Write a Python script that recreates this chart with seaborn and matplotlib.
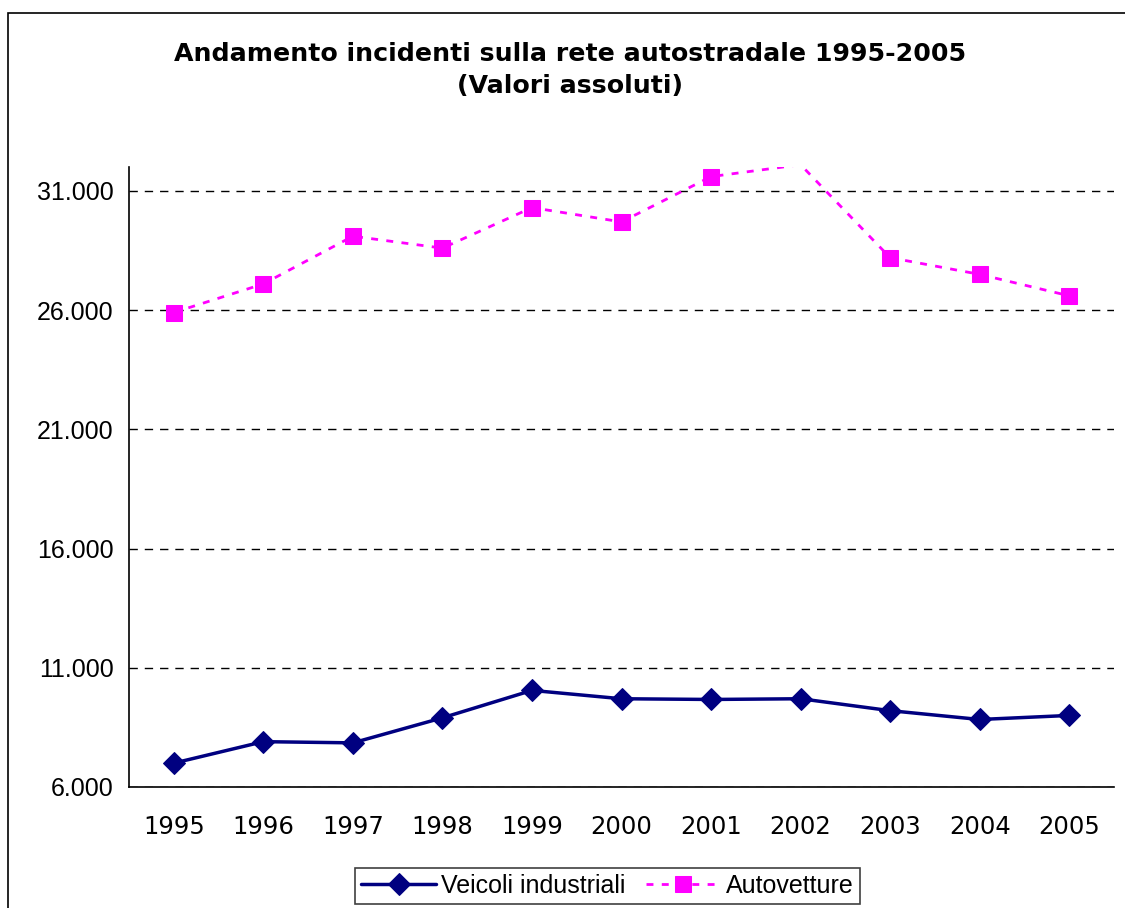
import matplotlib
matplotlib.use("Agg")
import matplotlib.pyplot as plt
import numpy as np
import pandas as pd
import seaborn as sns
from matplotlib.patches import Rectangle

# data
anni = ['1995', '1996', '1997', '1998', '1999', '2000',
        '2001', '2002', '2003', '2004', '2005']
veicoli_industriali = [7000, 7900, 7850, 8900, 10050, 9700,
                       9670, 9700, 9200, 8830, 9000]
autovetture = [25900, 27100, 29100, 28600, 30300, 29700,
               31600, 32100, 28200, 27500, 26600]
y_ticks = [6000, 11000, 16000, 21000, 26000, 31000]
y_max = 32000

sns.set_style('white')
plt.rcParams['font.family'] = ['DejaVu Sans']
plt.rcParams['text.color'] = 'black'
plt.rcParams['xtick.color'] = 'black'
plt.rcParams['ytick.color'] = 'black'

df = pd.DataFrame({
    'pos': np.arange(len(anni)),
    'Veicoli industriali': veicoli_industriali,
    'Autovetture': autovetture,
})

fig = plt.figure(figsize=(11.25, 9.08), dpi=100)
ax = fig.add_axes([0.1147, 0.1333, 0.8755, 0.6827])

sns.lineplot(data=df, x='pos', y='Veicoli industriali', ax=ax,
             color='#000080', lw=2.5, marker='D', markersize=11,
             markeredgecolor='#000080', label='Veicoli industriali')
# markers beyond the axis top are not drawn (as in the original)
visible = [i for i, v in enumerate(autovetture) if v <= y_max]
sns.lineplot(data=df, x='pos', y='Autovetture', ax=ax,
             color='#FF00FF', lw=2, linestyle=(0, (2.5, 3)), marker='s',
             markersize=12, markeredgecolor='#FF00FF', markevery=visible,
             label='Autovetture')

ax.set_xlim(-0.5, len(anni) - 0.5)
ax.set_ylim(6000, y_max)
ax.set_xticks(np.arange(len(anni)))
ax.set_xticklabels(anni, fontsize=17.5)
ax.set_xticks(np.arange(len(anni) + 1) - 0.5, minor=True)
ax.tick_params(axis='x', which='major', length=0, pad=20)
ax.tick_params(axis='x', which='minor', length=8, width=1.2,
               direction='out', color='black')
ax.set_yticks(y_ticks)
ax.set_yticklabels([f'{v:,}'.replace(',', '.') for v in y_ticks],
                   fontsize=18, family='Liberation Sans')
ax.tick_params(axis='y', length=7, width=1.2, direction='out',
               color='black', pad=4)
ax.set_xlabel('')
ax.set_ylabel('')

ax.grid(True, axis='y', color='black', linestyle=(0, (6, 5)), lw=1)
for s in ['top', 'right']:
    ax.spines[s].set_visible(False)
for s in ['left', 'bottom']:
    ax.spines[s].set_color('black')
    ax.spines[s].set_linewidth(1.2)

fig.text(0.507, 0.923, 'Andamento incidenti sulla rete autostradale 1995-2005\n(Valori assoluti)',
         ha='center', va='center', fontsize=18.2, fontweight='bold',
         linespacing=1.4)

leg = ax.legend(loc='center', bbox_to_anchor=(0.540, 0.024),
                bbox_transform=fig.transFigure, ncol=2, frameon=True,
                fancybox=False, edgecolor='#404040', framealpha=1,
                prop={'family': 'Liberation Sans', 'size': 18},
                handlelength=3.0, handletextpad=0.2, columnspacing=0.8,
                borderpad=0.25)
leg.get_frame().set_linewidth(1.2)

# outer chart border
fig.patches.append(Rectangle((8 / 1125, -0.2), 2, 1.2 - 13 / 908,
                             transform=fig.transFigure, fill=False,
                             edgecolor='black', lw=1.2))

fig.savefig('out.png', dpi=100)
